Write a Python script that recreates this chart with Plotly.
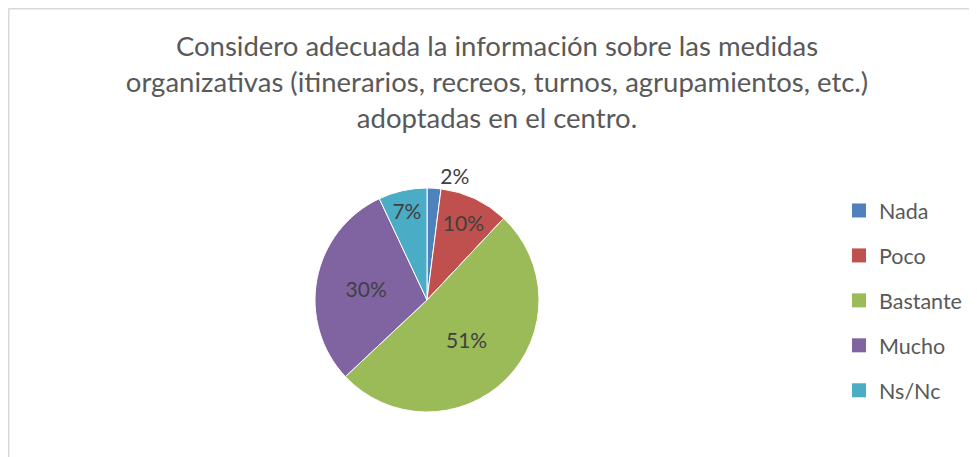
import plotly.graph_objects as go

labels = ["Nada", "Poco", "Bastante", "Mucho", "Ns/Nc"]
values = [2, 10, 51, 30, 7]
colors = ["#4F81BD", "#C0504D", "#9BBB59", "#8064A2", "#4BACC6"]
text_positions = ["outside", "inside", "inside", "inside", "inside"]
title_text = ("Considero adecuada la información sobre las medidas<br>"
              "organizativas (itinerarios, recreos, turnos, agrupamientos, etc.)<br>"
              "adoptadas en el centro.")

FONT = "Lato, 'Open Sans', sans-serif"
OFF = 8  # page body margin
W, H = 977 - OFF, 457 - OFF
cx, cy, r = 427 - OFF, 300 - OFF, 112

fig = go.Figure()
fig.add_trace(go.Pie(
    labels=labels, values=values, sort=False, direction="clockwise", rotation=0,
    marker=dict(colors=colors, line=dict(color="white", width=1)),
    textinfo="percent", texttemplate="%{percent:.0%}",
    textposition=text_positions, insidetextorientation="horizontal",
    textfont=dict(family=FONT, size=21, color="#404040"),
    outsidetextfont=dict(family=FONT, size=21, color="#404040"),
    insidetextfont=dict(family=FONT, size=21, color="#404040"),
    showlegend=False, hoverinfo="label+percent",
    domain=dict(x=[(cx - r) / W, (cx + r) / W], y=[(H - cy - r) / H, (H - cy + r) / H]),
))
for lab, col in zip(labels, colors):
    fig.add_trace(go.Scatter(
        x=[None], y=[None], mode="markers", name=lab, legendgroup=lab,
        marker=dict(symbol="square", size=14, color=col), showlegend=True,
    ))

fig.update_layout(
    width=W, height=H, margin=dict(l=0, r=0, t=0, b=0),
    paper_bgcolor="white", plot_bgcolor="white",
    title=dict(text=title_text, x=(497 - OFF) / W, xanchor="center", y=1 - 48 / H, yanchor="top",
               font=dict(family=FONT, size=27.5, color="#595959")),
    legend=dict(x=(839 - OFF) / W, xanchor="left", y=1 - (190 - OFF) / H, yanchor="top",
                font=dict(family=FONT, size=21.5, color="#595959"),
                tracegroupgap=14, itemwidth=30, bgcolor="rgba(0,0,0,0)"),
    xaxis=dict(visible=False), yaxis=dict(visible=False),
    shapes=[
        dict(type="line", xref="paper", yref="paper", x0=0.5 / W, x1=1, y0=1 - 0.5 / H, y1=1 - 0.5 / H,
             line=dict(color="#D9D9D9", width=2)),
        dict(type="line", xref="paper", yref="paper", x0=0.5 / W, x1=0.5 / W, y0=0, y1=1 - 0.5 / H,
             line=dict(color="#D9D9D9", width=2)),
    ],
)
fig.write_html("out.html")
